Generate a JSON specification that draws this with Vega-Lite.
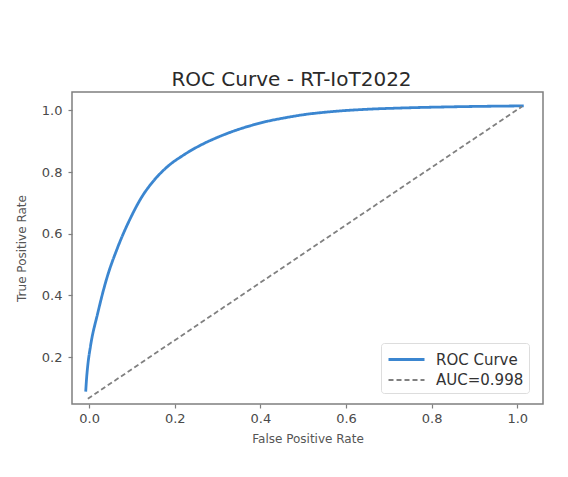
{
  "$schema": "https://vega.github.io/schema/vega-lite/v6.json",
  "autosize": {"type": "none"},
  "width": 471,
  "height": 312,
  "padding": {"left": 72, "top": 92, "right": 25, "bottom": 73},
  "background": "white",
  "title": {
    "text": "ROC Curve - RT-IoT2022",
    "fontSize": 20,
    "font": "DejaVu Sans",
    "fontWeight": "normal",
    "color": "#2a2a2a",
    "frame": "group",
    "anchor": "middle",
    "dx": -16,
    "offset": 2
  },
  "data": {
    "values": [
      {"fpr": -0.008, "tpr": 0.088, "series": "ROC Curve", "o": 0},
      {"fpr": -0.006, "tpr": 0.13, "series": "ROC Curve", "o": 1},
      {"fpr": -0.003, "tpr": 0.175, "series": "ROC Curve", "o": 2},
      {"fpr": 0.003, "tpr": 0.234, "series": "ROC Curve", "o": 3},
      {"fpr": 0.02, "tpr": 0.342, "series": "ROC Curve", "o": 4},
      {"fpr": 0.04, "tpr": 0.45, "series": "ROC Curve", "o": 5},
      {"fpr": 0.067, "tpr": 0.557, "series": "ROC Curve", "o": 6},
      {"fpr": 0.098, "tpr": 0.655, "series": "ROC Curve", "o": 7},
      {"fpr": 0.121, "tpr": 0.715, "series": "ROC Curve", "o": 8},
      {"fpr": 0.15, "tpr": 0.771, "series": "ROC Curve", "o": 9},
      {"fpr": 0.183, "tpr": 0.818, "series": "ROC Curve", "o": 10},
      {"fpr": 0.22, "tpr": 0.855, "series": "ROC Curve", "o": 11},
      {"fpr": 0.261, "tpr": 0.888, "series": "ROC Curve", "o": 12},
      {"fpr": 0.3, "tpr": 0.913, "series": "ROC Curve", "o": 13},
      {"fpr": 0.339, "tpr": 0.934, "series": "ROC Curve", "o": 14},
      {"fpr": 0.38, "tpr": 0.952, "series": "ROC Curve", "o": 15},
      {"fpr": 0.416, "tpr": 0.965, "series": "ROC Curve", "o": 16},
      {"fpr": 0.46, "tpr": 0.977, "series": "ROC Curve", "o": 17},
      {"fpr": 0.494, "tpr": 0.985, "series": "ROC Curve", "o": 18},
      {"fpr": 0.572, "tpr": 0.997, "series": "ROC Curve", "o": 19},
      {"fpr": 0.65, "tpr": 1.004, "series": "ROC Curve", "o": 20},
      {"fpr": 0.727, "tpr": 1.008, "series": "ROC Curve", "o": 21},
      {"fpr": 0.85, "tpr": 1.012, "series": "ROC Curve", "o": 22},
      {"fpr": 1.015, "tpr": 1.015, "series": "ROC Curve", "o": 23},
      {"fpr": -0.003, "tpr": 0.065, "series": "AUC=0.998", "o": 0},
      {"fpr": 1.011, "tpr": 1.013, "series": "AUC=0.998", "o": 1}
    ]
  },
  "mark": {"type": "line", "interpolate": "monotone", "clip": true},
  "encoding": {
    "x": {
      "field": "fpr",
      "type": "quantitative",
      "scale": {"domain": [-0.04, 1.06], "nice": false, "zero": false},
      "axis": {"values": [0, 0.2, 0.4, 0.6, 0.8, 1.0], "format": ".1f", "title": "False Positive Rate", "titlePadding": 8}
    },
    "y": {
      "field": "tpr",
      "type": "quantitative",
      "scale": {"domain": [0.048, 1.06], "nice": false, "zero": false},
      "axis": {"values": [0.2, 0.4, 0.6, 0.8, 1.0], "format": ".1f", "title": "True Positive Rate", "titlePadding": 13}
    },
    "order": {"field": "o", "type": "quantitative"},
    "color": {
      "field": "series",
      "type": "nominal",
      "scale": {"domain": ["ROC Curve", "AUC=0.998"], "range": ["#3b86d0", "#808080"]},
      "legend": {"title": null, "orient": "none", "legendX": 309, "legendY": 251}
    },
    "strokeDash": {
      "field": "series",
      "type": "nominal",
      "scale": {"domain": ["ROC Curve", "AUC=0.998"], "range": [[1, 0], [5, 3]]},
      "legend": {"title": null, "orient": "none", "legendX": 309, "legendY": 251}
    },
    "strokeWidth": {
      "field": "series",
      "type": "nominal",
      "scale": {"domain": ["ROC Curve", "AUC=0.998"], "range": [2.8, 1.8]},
      "legend": null
    }
  },
  "config": {
    "view": {"stroke": "#7f7f7f", "strokeWidth": 1.5},
    "axis": {
      "grid": false,
      "domain": false,
      "ticks": true,
      "tickColor": "#7f7f7f",
      "tickSize": 4,
      "tickWidth": 1.2,
      "labelFont": "DejaVu Sans",
      "labelFontSize": 13,
      "labelColor": "#4a4a4a",
      "labelPadding": 4,
      "titleFont": "DejaVu Sans",
      "titleFontSize": 12,
      "titleFontWeight": "normal",
      "titleColor": "#555555"
    },
    "axisY": {"labelPadding": 6},
    "legend": {
      "fillColor": "white",
      "strokeColor": "#dddddd",
      "cornerRadius": 3,
      "padding": 5,
      "symbolType": "M-1.8,0H1.8",
      "symbolSize": 400,
      "symbolOffset": 9,
      "symbolStrokeWidth": 2.5,
      "labelFont": "DejaVu Sans",
      "labelFontSize": 15,
      "labelColor": "#333333",
      "labelOffset": 18,
      "rowPadding": 1
    }
  }
}
